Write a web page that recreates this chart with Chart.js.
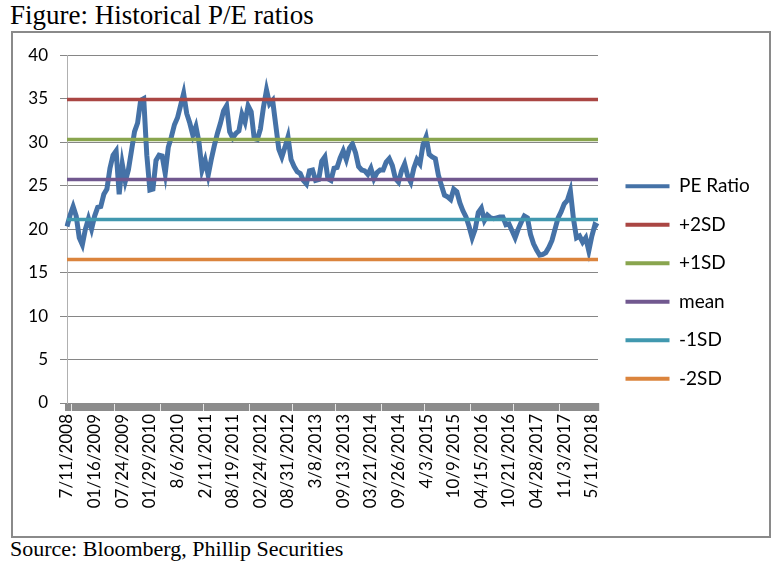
<!DOCTYPE html>
<html>
<head>
<meta charset="utf-8">
<script src="https://cdn.jsdelivr.net/npm/chart.js@4.4.0/dist/chart.umd.min.js"></script>
<style>
  body { margin: 0; background: #fff; width: 779px; height: 568px; position: relative; overflow: hidden; }
  .title { position: absolute; left: 10px; top: 0px; line-height: 30px; font: 27px "Liberation Serif", "Times New Roman", serif; color: #000; }
  .source { position: absolute; left: 10px; top: 536px; font: 22px "Liberation Serif", "Times New Roman", serif; color: #000; }
  .box { position: absolute; left: 11px; top: 31px; width: 760px; height: 507px; border: 2px solid #8a8a8a; box-sizing: border-box; }
  .box canvas { display: block; }
</style>
</head>
<body>
<div class="title">Figure: Historical P/E ratios</div>
<div class="box"><canvas id="myChart" width="756" height="503"></canvas></div>
<div class="source">Source: Bloomberg, Phillip Securities</div>
<script>
// tick labels shown on the date axis (one every 9 points)
const tickLabels = ["7/11/2008", "01/16/2009", "07/24/2009", "01/29/2010", "8/6/2010",
  "2/11/2011", "08/19/2011", "02/24/2012", "08/31/2012", "3/8/2013",
  "09/13/2013", "03/21/2014", "09/26/2014", "4/3/2015", "10/9/2015",
  "04/15/2016", "10/21/2016", "04/28/2017", "11/3/2017", "5/11/2018"];
const pointsPerLabel = 9;

// P/E ratio
const peRatio = [
  20.3, 21.6, 22.6, 21.5, 19.0, 18.2, 20.0, 21.2, 20.0, 21.5,
  22.5, 22.6, 24.0, 24.6, 27.0, 28.5, 29.0, 24.0, 27.5, 25.5,
  26.8, 29.0, 31.2, 32.2, 34.8, 35.0, 28.5, 24.5, 24.6,
  27.9, 28.5, 28.4, 26.4, 29.4, 30.6, 32.0, 32.8, 34.2, 35.6,
  33.3, 32.2, 30.8, 31.8, 30.0, 26.8, 27.9, 26.2, 28.0, 29.6,
  31.0, 32.2, 33.6, 34.2, 31.2, 30.5, 31.0, 31.3,
  33.2, 32.3, 34.2, 33.5, 30.4, 30.3, 31.5, 34.0, 36.0, 34.4,
  34.8, 32.0, 29.2, 28.3, 29.4, 30.6, 28.0, 27.2, 26.6, 26.4,
  25.6, 25.2, 26.7, 26.8, 25.6, 25.7, 27.8, 28.3, 25.8,
  25.6, 27.0, 27.1, 28.2, 29.0, 28.0, 29.3, 29.8, 28.8, 27.2,
  26.8, 26.7, 26.3, 27.0, 25.8, 26.5, 26.8, 26.8, 27.7, 28.1,
  27.3, 25.8, 25.4, 26.7, 27.5, 26.1, 25.4, 27.0, 28.0,
  27.5, 29.7, 30.6, 28.6, 28.3, 28.1, 26.2, 25.0, 23.9, 23.7,
  23.4, 24.6, 24.3, 23.0, 22.1, 21.4, 20.3, 19.0, 20.0, 21.9,
  22.4, 21.0, 21.6, 21.3, 21.2, 21.3, 21.4, 21.4,
  20.5, 20.6, 19.8, 19.0, 20.0, 20.8, 21.5, 21.3, 19.4, 18.3,
  17.6, 17.0, 17.1, 17.3, 17.9, 18.7, 20.0, 21.3, 22.0, 22.9,
  23.3, 24.4, 21.2, 19.0, 19.2, 18.5, 19.0, 17.5, 19.2, 20.5,
  20.3
];

// band levels
const bandNames = ["+2SD", "+1SD", "mean", "-1SD", "-2SD"];
const bandValues = [34.9, 30.3, 25.7, 21.1, 16.5];
const bandColors = ["#AA4643", "#89A54E", "#71588F", "#4198AF", "#DB843D"];

const yTicks = [0, 5, 10, 15, 20, 25, 30, 35, 40];

const labels = peRatio.map((v, i) => (i % pointsPerLabel === 0 ? tickLabels[i / pointsPerLabel] || "" : ""));

const datasets = [{
  label: "PE Ratio",
  data: peRatio,
  borderColor: "#4572A7",
  backgroundColor: "#4572A7",
  borderWidth: 5,
  pointRadius: 0,
  tension: 0,
  order: 1
}];
bandNames.forEach((name, k) => {
  datasets.push({
    label: name,
    data: labels.map(() => bandValues[k]),
    borderColor: bandColors[k],
    backgroundColor: bandColors[k],
    borderWidth: 3.5,
    pointRadius: 0,
    order: 0
  });
});

const font = { family: "Lato, 'Noto Sans', sans-serif", size: 17 };
const legendFont = { family: "Lato, 'Noto Sans', sans-serif", size: 19 };

const legendFix = {
  id: "legendFix",
  beforeInit(chart) {
    const lg = chart.legend;
    if (!lg) return;
    const fit = lg.fit;
    lg.fit = function () { fit.call(this); this.width = 165; };
  },
  afterLayout(chart) {
    if (chart.legend) { chart.legend.left += 8; chart.legend.right += 8; }
  }
};

new Chart(document.getElementById("myChart"), {
  type: "line",
  data: { labels: labels, datasets: datasets },
  plugins: [legendFix],
  options: {
    responsive: false,
    animation: false,
    layout: { padding: { top: 22, right: 6, bottom: 26, left: 0 } },
    plugins: {
      tooltip: { enabled: false },
      legend: {
        position: "right",
        labels: {
          color: "#000",
          font: legendFont,
          boxWidth: 44,
          boxHeight: 4,
          padding: 19.5,
          sort: (a, b) => a.datasetIndex - b.datasetIndex,
          generateLabels: (chart) => Chart.defaults.plugins.legend.labels.generateLabels(chart)
            .map(l => Object.assign(l, { lineWidth: 0 }))
        }
      }
    },
    scales: {
      x: {
        afterFit: (s) => { s.height = 107; },
        grid: { display: true, drawOnChartArea: false, drawTicks: true, tickLength: 8, color: "#8c8c8c", lineWidth: 3.2 },
        border: { display: true, color: "#8c8c8c", width: 1 },
        ticks: {
          autoSkip: false, maxRotation: 90, minRotation: 90, padding: 3,
          color: "#000", font: font,
          callback: (v, i) => labels[i]
        }
      },
      y: {
        min: 0, max: 40,
        afterFit: (s) => { s.width = 54; },
        afterBuildTicks: (s) => { s.ticks = yTicks.map(v => ({ value: v })); },
        grid: { color: "#868686", lineWidth: 1, tickLength: 7 },
        border: { display: true, color: "#b0b0b0", width: 1 },
        ticks: { color: "#000", font: font, padding: 12 }
      }
    }
  }
});
</script>
</body>
</html>
